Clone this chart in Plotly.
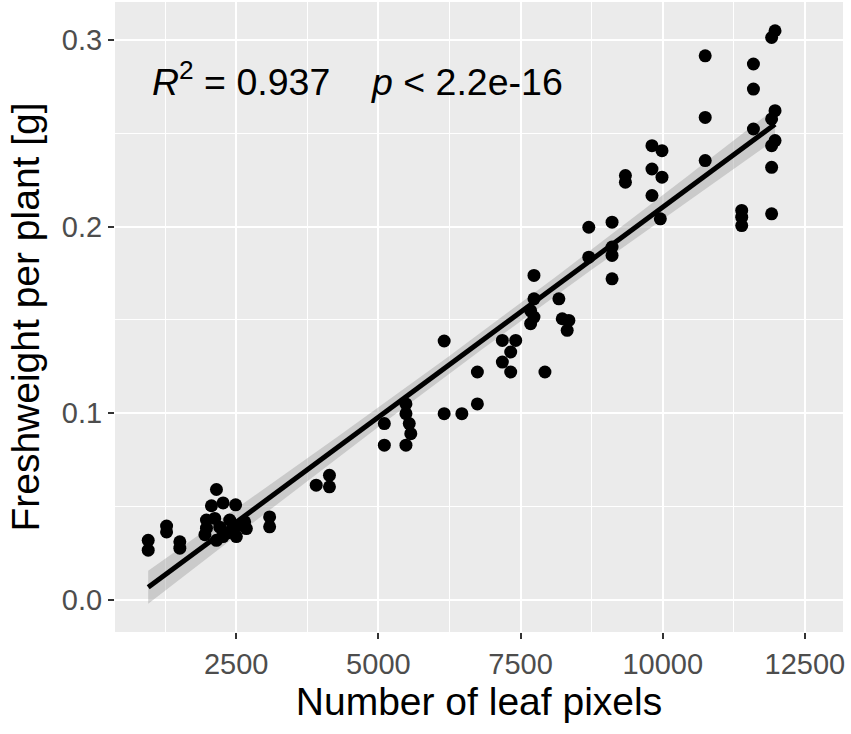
import numpy as np
import plotly.graph_objects as go

# leaf pixel count per plant and measured fresh weight (g)
leaf_pixels = [
    953, 953, 1276, 1276, 1509, 1509,
    1977, 1977, 1950, 2065, 2123, 2153, 2153, 2211, 2268, 2270,
    2350, 2386, 2444, 2490, 2503, 2560, 2649, 2679, 3088, 3088,
    3907, 4140, 4140,
    5105, 5105, 5485, 5485, 5543, 5570, 5485,
    6157, 6157, 6468, 6741, 6741,
    7180, 7415, 7327, 7180, 7327, 7929,
    7736, 7736, 7677, 7736, 7677,
    8174, 8233, 8350, 8320,
    8700, 9109, 8700, 9109, 9109, 9109,
    9344, 9344, 9811, 9987, 9811, 9987, 9811, 9958,
    10747, 10747, 10747,
    11389, 11389, 11389, 11595, 11595, 11595,
    11915, 11975, 11975, 11915, 11975, 11915, 11915, 11915,
]
fresh_weight = [
    0.0320, 0.0267, 0.0396, 0.0365, 0.0312, 0.0278,
    0.0428, 0.0385, 0.0350, 0.0505, 0.0437, 0.0592, 0.0320, 0.0390, 0.0340, 0.0520,
    0.0360, 0.0428, 0.0374, 0.0510, 0.0340, 0.0400, 0.0419, 0.0383, 0.0445, 0.0392,
    0.0615, 0.0668, 0.0606,
    0.0945, 0.0829, 0.1050, 0.0998, 0.0945, 0.0891, 0.0829,
    0.1387, 0.0998, 0.0998, 0.1050, 0.1221,
    0.1390, 0.1390, 0.1328, 0.1274, 0.1221, 0.1221,
    0.1738, 0.1613, 0.1550, 0.1515, 0.1480,
    0.1613, 0.1506, 0.1497, 0.1444,
    0.1996, 0.2023, 0.1836, 0.1890, 0.1845, 0.1720,
    0.2273, 0.2237, 0.2433, 0.2406, 0.2308, 0.2264, 0.2166, 0.2041,
    0.2914, 0.2584, 0.2353,
    0.2086, 0.2050, 0.2005, 0.2870, 0.2736, 0.2522,
    0.3012, 0.3048, 0.2620, 0.2576, 0.2460, 0.2433, 0.2317, 0.2068,
]
x_ticks = [2500, 5000, 7500, 10000, 12500]
x_tick_labels = ["2500", "5000", "7500", "10000", "12500"]
y_ticks = [0.0, 0.1, 0.2, 0.3]
y_tick_labels = ["0.0", "0.1", "0.2", "0.3"]
r_squared = "0.937"
p_value = "2.2e-16"

x = np.array(leaf_pixels, dtype=float)
y = np.array(fresh_weight)

# linear fit with 95% confidence band, like geom_smooth(method="lm")
n = len(x)
slope, intercept = np.polyfit(x, y, 1)
resid = y - (slope * x + intercept)
s = np.sqrt(np.sum(resid ** 2) / (n - 2))
xs = np.linspace(x.min(), x.max(), 80)
ys = slope * xs + intercept
se = s * np.sqrt(1 / n + (xs - x.mean()) ** 2 / np.sum((x - x.mean()) ** 2))
t95 = 1.99
lower = ys - t95 * se
upper = ys + t95 * se

fig = go.Figure()
fig.add_trace(go.Scatter(
    x=np.concatenate([xs, xs[::-1]]), y=np.concatenate([upper, lower[::-1]]),
    fill="toself", fillcolor="rgba(153,153,153,0.4)", line=dict(width=0),
    mode="lines", hoverinfo="skip", showlegend=False))
fig.add_trace(go.Scatter(
    x=x, y=y, mode="markers",
    marker=dict(color="black", size=13, line=dict(width=0)), showlegend=False))
fig.add_trace(go.Scatter(
    x=xs, y=ys, mode="lines", line=dict(color="black", width=5), showlegend=False))

fig.add_annotation(
    x=983, y=0.279, xref="x", yref="y", xanchor="left", yanchor="middle",
    text="<i>R</i><sup>2</sup> = " + r_squared + "\u00a0\u00a0\u00a0\u00a0<i>p</i> &lt; " + p_value,
    showarrow=False, font=dict(size=37.5, color="black", family="Liberation Sans"))

axis_common = dict(
    showgrid=True, gridcolor="white", gridwidth=2.2, zeroline=False,
    ticks="outside", ticklen=6, tickwidth=2, tickcolor="#333333",
    tickfont=dict(size=29, color="#4D4D4D", family="Liberation Sans"),
    showline=False, automargin=False,
)
fig.update_xaxes(
    range=[369, 13170], tickvals=x_ticks, ticktext=x_tick_labels,
    minor=dict(showgrid=True, gridcolor="white", gridwidth=1, dtick=1250, tick0=0),
    title=dict(text="Number of leaf pixels", standoff=8,
               font=dict(size=39, color="black", family="Liberation Sans")),
    **axis_common)
fig.update_yaxes(
    range=[-0.0171, 0.3202], tickvals=y_ticks, ticktext=y_tick_labels,
    minor=dict(showgrid=True, gridcolor="white", gridwidth=1, dtick=0.05, tick0=0),
    title=dict(text="Freshweight per plant [g]", standoff=10,
               font=dict(size=39, color="black", family="Liberation Sans")),
    **axis_common)

fig.update_layout(
    width=851, height=734,
    margin=dict(l=115, r=8, t=2, b=102),
    plot_bgcolor="#EBEBEB", paper_bgcolor="white",
    font=dict(family="Liberation Sans"),
)
# drop the browser's default body margin so the figure sits at the page corner
fig.write_html("out.html", config={"displayModeBar": False},
               post_script="document.body.style.margin='0';")
